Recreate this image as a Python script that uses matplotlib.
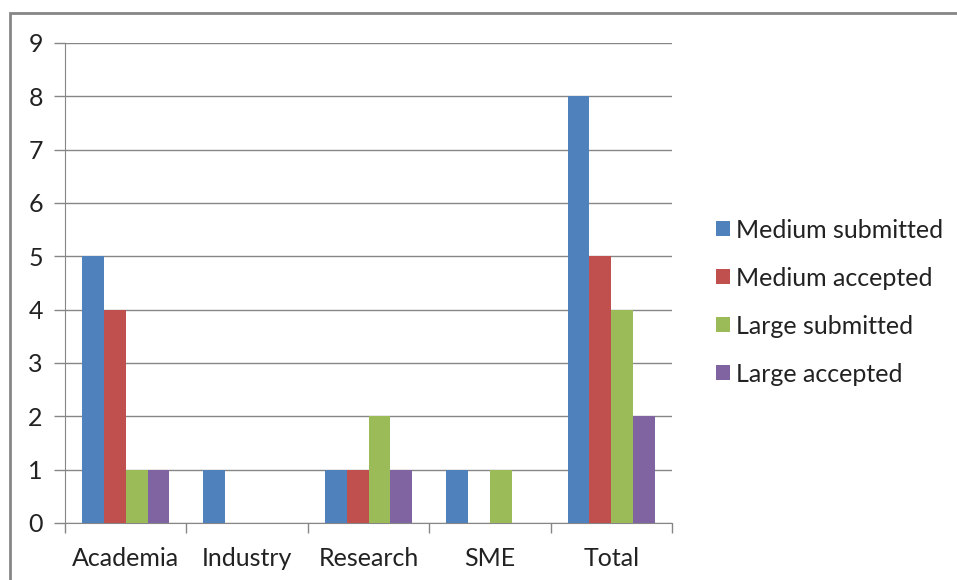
import matplotlib.pyplot as plt
import numpy as np
from matplotlib.patches import Rectangle

categories = ['Academia', 'Industry', 'Research', 'SME', 'Total']
medium_submitted = [5, 1, 1, 1, 8]
medium_accepted = [4, 0, 1, 0, 5]
large_submitted = [1, 0, 2, 1, 4]
large_accepted = [1, 0, 1, 0, 2]

series = [
    ('Medium submitted', medium_submitted, '#4F81BD'),
    ('Medium accepted', medium_accepted, '#C0504D'),
    ('Large submitted', large_submitted, '#9BBB59'),
    ('Large accepted', large_accepted, '#8064A2'),
]

plt.rcParams['font.family'] = ['Lato', 'DejaVu Sans']

fig = plt.figure(figsize=(9.57, 5.80), dpi=100)
ax = fig.add_axes([65 / 957, 57 / 580, 607 / 957, 480 / 580])

# outer chart border
fig.patches.append(Rectangle((10 / 957, -0.1), 1.2, (580 - 13) / 580 + 0.1,
                             transform=fig.transFigure, fill=False,
                             edgecolor='#868686', linewidth=2))

x = np.arange(len(categories))
w = 0.18
for i, (name, vals, col) in enumerate(series):
    ax.bar(x + (i - 1.5) * w, vals, w, color=col, label=name, zorder=3)

ax.set_xlim(-0.5, len(categories) - 0.5)
ax.set_ylim(0, 9)
ax.set_yticks(range(10))
ax.set_xticks(x)
ax.set_xticklabels(categories)
ax.set_xticks(np.arange(-0.5, len(categories)), minor=True)
ax.tick_params(axis='x', which='major', length=0, pad=17, labelsize=18, colors='#222222')
ax.tick_params(axis='x', which='minor', length=7, color='#868686', width=1)
ax.tick_params(axis='y', length=8, color='#868686', width=1, labelsize=18, pad=8, labelcolor='#222222')
ax.grid(axis='y', color='#868686', linewidth=1, zorder=0)
for s in ['top', 'right']:
    ax.spines[s].set_visible(False)
ax.spines['left'].set_color('#868686')
ax.spines['bottom'].set_color('#868686')

fig.legend(loc='center left', bbox_to_anchor=(693 / 957, 278 / 580), frameon=False,
           fontsize=18, handlelength=0.56, handleheight=0.56, handletextpad=0.25,
           labelspacing=1.0, labelcolor='#222222')

fig.savefig('out.png', dpi=100)
